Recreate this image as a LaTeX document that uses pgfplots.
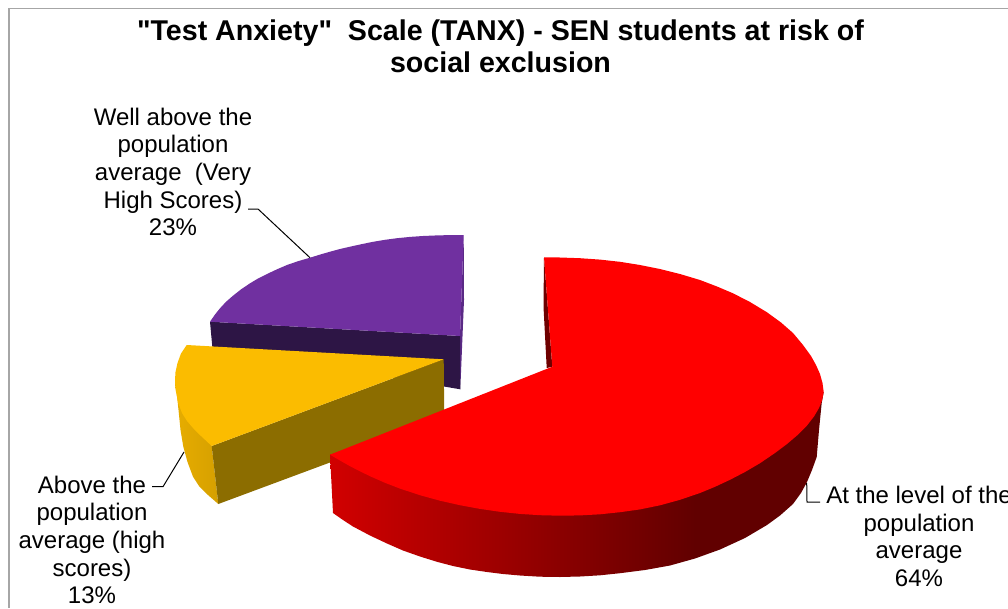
\documentclass[border=0pt]{standalone}
\usepackage{pgfplots}
\pgfplotsset{compat=1.18}
\usepackage{fontspec}
\setmainfont{Liberation Sans}
\newfontfamily\plainbold[BoldFont={Liberation Sans Bold}]{Liberation Sans}
\definecolor{redtop}{HTML}{FF0000}
\definecolor{redinner}{HTML}{6E0000}
\definecolor{purpletop}{HTML}{7030A0}
\definecolor{purplecut}{HTML}{2D1545}
\definecolor{purpleedge}{HTML}{5A2A85}
\definecolor{ambertop}{HTML}{FBBC00}
\definecolor{ambercut}{HTML}{8C6D00}
\definecolor{frameline}{HTML}{A6A6A6}
% Rim of the large slice: bright at the left, darkest towards the right
\pgfdeclarehorizontalshading{redrim}{100bp}{
  color(0bp)=(red!82!black);
  color(25bp)=(red!82!black);
  color(62bp)=(red!38!black);
  color(100bp)=(red!38!black)}
\pgfdeclarehorizontalshading{amberrim}{100bp}{
  color(0bp)=(ambertop!92!black);
  color(25bp)=(ambertop!92!black);
  color(75bp)=(ambertop!85!black);
  color(100bp)=(ambertop!85!black)}
\newcommand{\lab}{\fontsize{24}{27.6}\selectfont}
\begin{document}
\begin{tikzpicture}
\clip (0,0) rectangle (1008pt,608pt);
\begin{axis}[
  at={(0,0)}, anchor=south west,
  scale only axis, width=1008pt, height=608pt,
  xmin=0, xmax=1008, ymin=0, ymax=608, y dir=reverse,
  hide axis, clip=false]

% chart frame
\addplot[frameline, line width=1.3pt] coordinates {(9,608) (9,8.5) (1008,8.5)};

% 23% slice: right edge, cut face, top
\addplot[fill=purpleedge, draw=none] coordinates {(463.7,235) (460,336) (460.3,389.3) (464,300) (463.7,235)};
\addplot[fill=purplecut, draw=none] coordinates {(210,321.7) (460,336) (460.3,389.3) (212.3,346.7) (210,321.7)};
\addplot[fill=purpletop, draw=none] coordinates {
  (463.7,235) (460,336) (210,321.7)
  (215,314.5) (220,308.3) (226,301.8) (233,295.7) (241,289.4) (250,283.3) (258,278.5) (267,274)
  (277,269.3) (287,265) (298,261.2) (310,257.7) (320,254.6) (330,251.7) (340,249) (350,246.7)
  (360,244.5) (372,242) (385,239.8) (397,238.2) (410,236.9) (423,236) (437,235.4) (450,235.1) (463.7,235)};

% 13% slice: rim, cut face, top
\addplot[shade, shading=amberrim, draw=none] coordinates {
  (175,380) (175.6,388) (176.7,393) (178.5,410) (180.5,430) (183.3,446.7) (187.5,462) (193,476.7)
  (199,486) (208,495) (218.3,504) (211.7,446) (200,420) (190,390) (175,380)};
\addplot[fill=ambercut, draw=none] coordinates {(211.7,446) (443.7,359.3) (444.3,420) (218.3,504) (211.7,446)};
\addplot[fill=ambertop, draw=none] coordinates {
  (186.7,345) (443.7,359.3) (211.7,446)
  (201,436) (193.3,428.3) (187,421) (182,413) (178.3,403.3) (175.6,390) (175,380)
  (175.5,372) (177.5,363) (181,353.5) (186.7,345)};

% 64% slice: inner wall, rim, top
\addplot[fill=redinner, draw=none] coordinates {(544,257.3) (543.5,306.7) (546.7,368) (552.3,366.7) (544,257.3)};
\addplot[shade, shading=redrim, draw=none] coordinates {
  (330,454.7) (333,513) (343,520) (353,526.5) (370,535.5) (387,543.5) (403,550.5) (420,556.5)
  (437,561.8) (453,566) (470,569.5) (487,572) (503,574) (520,575.5) (540,576.7) (560,577)
  (580,576.5) (600,575.3) (620,573.2) (645,570) (670,565.5) (695,558.5) (720,549.5) (745,538)
  (767,525) (780,515.5) (793,504) (801,493) (807,482) (812,470) (816.7,457) (819,430)
  (821.7,403) (823.7,392) (600,450) (345,450) (330,454.7)};
\addplot[fill=redtop, draw=none] coordinates {
  (544,257.3) (552.3,366.7) (330,454.7)
  (340,460.5) (350,466.2) (360,471.3) (370,476.2) (385,482.8) (400,488.6) (420,495.2) (440,500.7)
  (460,505.2) (480,508.9) (500,511.8) (520,513.9) (540,515.2) (560,515.7) (580,515.4) (600,514.3)
  (620,512.2) (640,509.4) (660,505.3) (680,499.8) (700,493) (715,486.8) (730,479.8) (745,472)
  (760,463.2) (775,453) (787,444) (797,435.5) (807,425.5) (814,416.5) (819,408) (822,400.5) (823.7,392)
  (822.5,383) (820,374) (816,365) (811,356) (803,345) (793,333) (781,322.5) (767,312.3) (750,302)
  (733,293.3) (717,286.5) (700,280) (680,274) (660,269) (640,265) (620,261.8) (600,259.6) (580,258.2)
  (560,257.5) (544,257.3)};

% leader lines
\addplot[black, line width=1pt] coordinates {(248,209) (258,209) (310,257.7)};
\addplot[black, line width=1pt] coordinates {(152,486.7) (163,486.7) (184,452)};
\addplot[black, line width=1pt] coordinates {(806.7,483) (807,502) (820,502)};

% title and slice labels
\node[align=center, font=\plainbold\fontsize{28.6}{32}\selectfont\bfseries] at (axis cs:500.5,46)
  {"Test Anxiety"~ Scale (TANX) - SEN students at risk of\\social exclusion};
\node[align=center, font=\lab] at (axis cs:173,172)
  {Well above the\\population\\average~ (Very\\High Scores)\\23\%};
\node[align=center, font=\lab] at (axis cs:92,540)
  {Above the\\population\\average (high\\scores)\\13\%};
\node[align=center, font=\lab] at (axis cs:919,536.5)
  {At the level of the\\population\\average\\64\%};
\end{axis}
\end{tikzpicture}
\end{document}
